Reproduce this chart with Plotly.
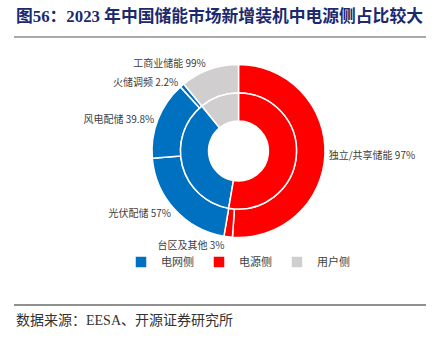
import plotly.graph_objects as go

# Inner ring: shares (%) of new installed capacity by side
inner_labels = ["电网侧", "电源侧", "用户侧"]
inner_values = [36.4, 52.7, 10.9]
inner_colors = ["#0070C0", "#FF0000", "#D0CECE"]

# Outer ring: breakdown within each side (% of that side)
grid_sub_labels = ["光伏配储", "风电配储", "火储调频"]
grid_sub_pct = [57, 39.8, 2.2]
grid_sub_text = ["57%", "39.8%", "2.2%"]
source_sub_labels = ["独立/共享储能", "台区及其他"]
source_sub_pct = [97, 3]
source_sub_text = ["97%", "3%"]
user_sub_labels = ["工商业储能"]
user_sub_pct = [99]
user_sub_text = ["99%"]

blue, red, gray = inner_colors
grid_v, source_v, user_v = inner_values

def scale(parts, total):
    s = sum(parts)
    return [p / s * total for p in parts]

outer_labels = source_sub_labels + grid_sub_labels + user_sub_labels
outer_values = scale(source_sub_pct, source_v) + scale(grid_sub_pct, grid_v) + scale(user_sub_pct, user_v)
outer_text = [f"{l} {t}" for l, t in zip(source_sub_labels + grid_sub_labels + user_sub_labels,
                                          source_sub_text + grid_sub_text + user_sub_text)]
outer_colors = [red] * len(source_sub_labels) + [blue] * len(grid_sub_labels) + [gray] * len(user_sub_labels)

W, H = 440, 340
cx, cy = 238.5, 151
R_out, R_in, R_hole = 86.5, 58, 30

def dom(r):
    return dict(x=[(cx - r) / W, (cx + r) / W], y=[(H - cy - r) / H, (H - cy + r) / H])

fig = go.Figure()
fig.add_trace(go.Pie(
    labels=outer_labels, values=outer_values, text=outer_text,
    textinfo="text", textposition="outside", sort=False, direction="clockwise", rotation=0,
    hole=R_in / R_out, domain=dom(R_out), showlegend=False,
    marker=dict(colors=outer_colors, line=dict(color="white", width=1.5)),
    outsidetextfont=dict(family="Noto Sans CJK SC", size=10, color="#404040"),
    automargin=False,
))
fig.add_trace(go.Pie(
    labels=inner_labels, values=inner_values, textinfo="none", sort=False,
    direction="counterclockwise", rotation=360 * source_v / sum(inner_values),
    hole=R_hole / R_in, domain=dom(R_in), showlegend=True,
    marker=dict(colors=inner_colors, line=dict(color="white", width=1.5)),
))

fig.update_layout(
    width=W, height=H, margin=dict(l=0, r=0, t=0, b=0),
    paper_bgcolor="white", plot_bgcolor="white",
    legend=dict(orientation="h", x=238 / W, xanchor="center", y=(H - 262) / H, yanchor="middle",
                bgcolor="rgba(0,0,0,0)",
                font=dict(family="Noto Sans CJK SC", size=11, color="#404040"),
                itemwidth=30, traceorder="normal"),
    annotations=[
        dict(text="<b>图56：2023 年中国储能市场新增装机中电源侧占比较大</b>", x=14 / W, y=1 - 16 / H,
             xref="paper", yref="paper", xanchor="left", yanchor="middle", showarrow=False,
             font=dict(family="Liberation Serif, Noto Sans CJK SC", size=16.8, color="#1B2A6E")),
        dict(text="数据来源：EESA、开源证券研究所", x=14 / W, y=1 - 320 / H,
             xref="paper", yref="paper", xanchor="left", yanchor="middle", showarrow=False,
             font=dict(family="Liberation Serif, Noto Sans CJK SC", size=14, color="#333333")),
    ],
    shapes=[
        dict(type="line", xref="paper", yref="paper", x0=14 / W, x1=426 / W, y0=1 - 37 / H, y1=1 - 37 / H,
             line=dict(color="#8C8C8C", width=1.5)),
        dict(type="line", xref="paper", yref="paper", x0=14 / W, x1=426 / W, y0=1 - 305 / H, y1=1 - 305 / H,
             line=dict(color="#222222", width=1.2)),
    ],
)

fig.write_html("out.html")
